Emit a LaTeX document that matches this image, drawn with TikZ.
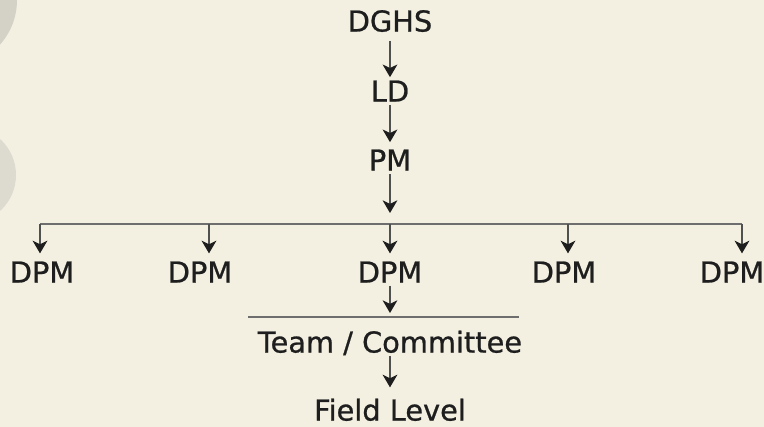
\documentclass[tikz,border=0pt]{standalone}
\usepackage{fontspec}
\setmainfont{DejaVu Sans}
\newfontfamily\orgfont[BoldFont={DejaVu Sans}, BoldFeatures={FakeBold=0.8}]{DejaVu Sans}
\usepackage{xcolor}
\usetikzlibrary{arrows.meta, calc, positioning}
\definecolor{bgbeige}{RGB}{243,240,225}
\definecolor{disktop}{RGB}{212,210,198}
\definecolor{disklow}{RGB}{221,219,207}
\definecolor{inkdark}{RGB}{30,30,30}
\definecolor{linegray}{RGB}{80,80,80}
\definecolor{bargray}{RGB}{110,110,110}

\tikzset{
  orgnode/.style={text=inkdark, inner xsep=0pt, inner ysep=0.075cm,
    text height=15pt, text depth=0pt,
    font=\orgfont\bfseries\fontsize{20.5}{24}\selectfont},
  orgarrow/.style={linegray, line width=0.9pt,
    -{Stealth[length=9pt, width=10.5pt, inset=2.5pt, color=inkdark]}},
  orgbar/.style={bargray, line width=0.9pt}
}

\begin{document}
\begin{tikzpicture}[x=0.025cm, y=-0.025cm]
    % Background
    \fill[bgbeige] (0,0) rectangle (764,427);
    \useasboundingbox (0,0) rectangle (764,427);
    \begin{scope}
      \clip (0,0) rectangle (764,427);
      \fill[disktop] (-50,0) circle (67);
      \fill[disklow] (-32.5,175) circle (48.5);
    \end{scope}

    % Top of the chain
    \node[orgnode] (dghs) at (390,21) {DGHS};
    \node[orgnode] (ld) at (390,91) {LD};
    \node[orgnode] (pm) at (390,160) {PM};
    \draw[orgarrow, shorten <=0.15cm] (dghs) -- (ld);
    \draw[orgarrow, shorten >=0.1cm] (ld) -- (pm);

    % Branch bar
    \coordinate (pmtip) at (390,213);
    \coordinate (b1) at (40,224);
    \coordinate (b2) at (209,224);
    \coordinate (b3) at (390,224);
    \coordinate (b4) at (568,224);
    \coordinate (b5) at (742,224);
    \draw[orgarrow] (pm) -- (pmtip);
    \draw[orgbar] (b1) -- (b5);

    % Deputy programme managers
    \node[orgnode] (dpm1) at (42,272) {DPM};
    \node[orgnode] (dpm2) at (200,272) {DPM};
    \node[orgnode] (dpm3) at (390,272) {DPM};
    \node[orgnode] (dpm4) at (564,272) {DPM};
    \node[orgnode] (dpm5) at (732,272) {DPM};
    \foreach \i in {1,...,5}
      \draw[orgarrow, shorten >=0.12cm] (b\i) -- (b\i |- dpm\i.north);

    % Team and field level
    \coordinate (teamtip) at (390,313);
    \coordinate (tl) at (248,317);
    \coordinate (tr) at (519,317);
    \node[orgnode] (team) at (390,342) {Team / Committee};
    \node[orgnode] (field) at (390,410) {Field Level};
    \draw[orgarrow] (dpm3) -- (teamtip);
    \draw[orgbar] (tl) -- (tr);
    \draw[orgarrow, shorten >=0.22cm] (team) -- (field);
\end{tikzpicture}
\end{document}
